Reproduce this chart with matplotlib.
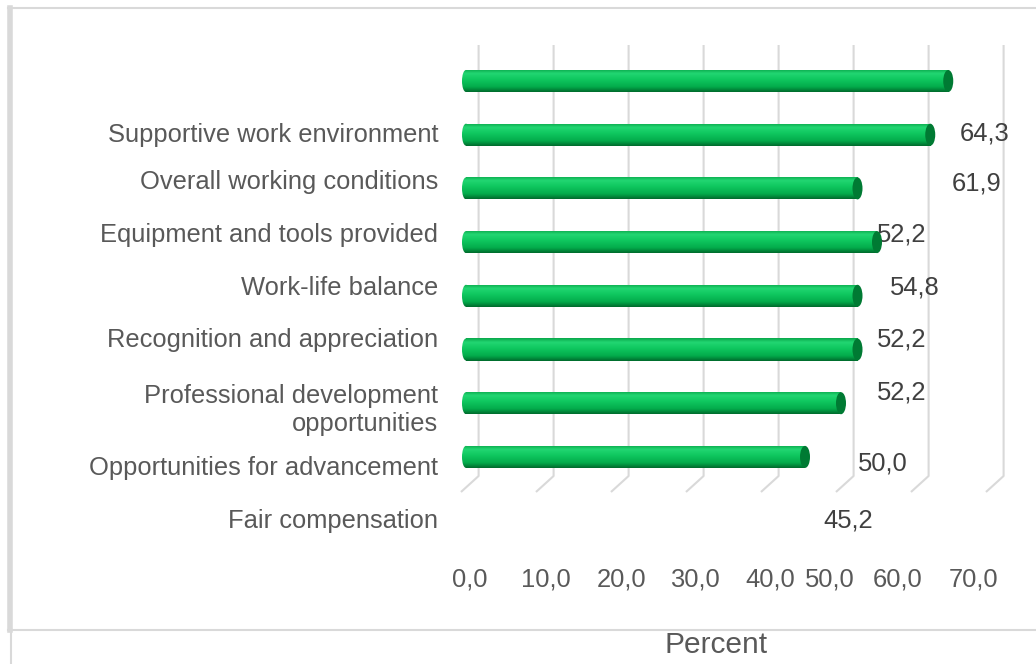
import matplotlib.pyplot as plt
import numpy as np
from matplotlib.patches import Ellipse
from matplotlib.colors import LinearSegmentedColormap
from matplotlib.lines import Line2D

plt.rcParams['font.family'] = ['Liberation Sans', 'DejaVu Sans']

# DATA (top bar first)
categories = ["Supportive work environment", "Overall working conditions",
              "Equipment and tools provided", "Work-life balance",
              "Recognition and appreciation",
              "Professional development\nopportunities",
              "Opportunities for advancement", "Fair compensation"]
values = [64.3, 61.9, 52.2, 54.8, 52.2, 52.2, 50.0, 45.2]
ticks = [0, 10, 20, 30, 40, 50, 60, 70]
tick_labels = ["0,0", "10,0", "20,0", "30,0", "40,0", "50,0", "60,0", "70,0"]
value_labels = [f"{v:.1f}".replace(".", ",") for v in values]
axis_title = "Percent"

# LAYOUT (Excel 3D chart puts the labels one slot lower than the bars)
cat_label_y = [1.0, 1.88, 2.86, 3.85, 4.83, 6.12, 7.2, 8.19]
val_label_y = [0.97, 1.9, 2.85, 3.84, 4.82, 5.81, 7.13, 8.18]
val_label_dx = [4.9, 6.2, 5.9, 5.1, 5.9, 5.9, 5.6, 5.7]
tick_dx = [0.5, 0.7, 0.7, 0.5, 0.5, -1.5, -2.5, -2.3]

W, H = 1036, 664
X0, PX = 466, 7.5     # pixel of zero, pixels per percent
Y0, PY = 81, 53.7     # pixel of first bar centre, pixels per slot
bar_h = 0.41
grid_back = 1.68      # back plane offset of gridlines
grid_front = -0.67
fs = 18.4

text_col = '#595959'
grid_col = '#d9d9d9'

fig = plt.figure(figsize=(W / 100, H / 100), dpi=100)
ax = fig.add_axes([0, 0, 1, 1])
ax.axis('off')

# gridlines with slanted 3D floor feet
y_top, y_bot, y_foot = (45 - Y0) / PY, (476 - Y0) / PY, (492 - Y0) / PY
for t in ticks:
    ax.plot([t + grid_back, t + grid_back, t + grid_front],
            [y_top, y_bot, y_foot], color=grid_col, lw=1.5, zorder=1,
            solid_capstyle='butt')

# cylinder-ish bars
y = np.arange(len(values))
cmap = LinearSegmentedColormap.from_list(
    'cyl', [(0, '#0aa84b'), (0.18, '#22d672'), (0.45, '#0fc75f'),
            (0.78, '#03ab4b'), (1.0, '#006b2c')])
grad = np.linspace(0, 1, 64).reshape(-1, 1)
bars = ax.barh(y, values, height=bar_h, color='#00b050', zorder=2)
for b, v, yi in zip(bars, values, y):
    ext = [-0.6, v, yi + bar_h / 2, yi - bar_h / 2]
    im = ax.imshow(grad, cmap=cmap, aspect='auto', zorder=3, extent=ext)
    im.set_clip_path(b)
    start = Ellipse((0, yi), 8 / PX, bar_h, facecolor='none',
                    edgecolor='none', zorder=3)
    ax.add_patch(start)
    im2 = ax.imshow(grad, cmap=cmap, aspect='auto', zorder=3, extent=ext)
    im2.set_clip_path(start)
    ax.add_patch(Ellipse((v, yi), 10 / PX, bar_h, facecolor='#007a33',
                         edgecolor='none', zorder=4))
ax.set_xlim(-X0 / PX, (W - X0) / PX)
ax.set_ylim((H - Y0) / PY, -Y0 / PY)

# category labels
for lab, ly in zip(categories, cat_label_y):
    ax.text(-3.73, ly, lab, ha='right', va='center', fontsize=fs,
            color=text_col, multialignment='right', linespacing=1.2)

# value labels
for v, lab, ly, dx in zip(values, value_labels, val_label_y, val_label_dx):
    ax.text(v + dx, ly, lab, ha='center', va='center', fontsize=fs,
            color='#404040')

# tick labels
tick_y = (579 - Y0) / PY
for t, lab, dx in zip(ticks, tick_labels, tick_dx):
    ax.text(t + dx, tick_y, lab, ha='center', va='center', fontsize=fs,
            color=text_col)

ax.text((716 - X0) / PX, (645 - Y0) / PY, axis_title, ha='center',
        va='center', fontsize=21.5, color=text_col)

# chart frame
def fline(xs, ys, lw):
    fig.add_artist(Line2D([x / W for x in xs], [1 - yy / H for yy in ys],
                          color=grid_col, lw=lw))

fline([8, W], [8, 8], 1.5)
fline([10, 10], [8, 630], 4)
fline([8, W], [630, 630], 1.5)
fline([11, 11], [630, H], 1.5)

fig.savefig('out.png', dpi=100)
